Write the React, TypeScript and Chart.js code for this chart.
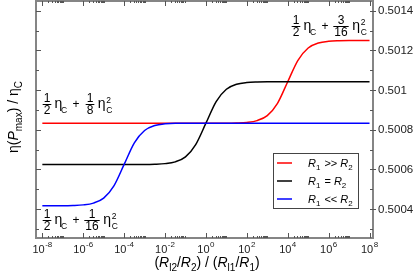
import React, { useEffect, useRef } from "react";
import { Chart, registerables } from "chart.js";

Chart.register(...registerables);

// ---------- data ----------
const xValues = [
  1e-8, 3.16e-8, 1e-7, 3.16e-7, 1e-6, 3.16e-6, 1e-5, 3.16e-5, 1e-4, 3.16e-4,
  1e-3, 3.16e-3, 1e-2, 3.16e-2, 1e-1, 3.16e-1, 1, 3.16, 10, 31.6,
  100, 316, 1e3, 3.16e3, 1e4, 3.16e4, 1e5, 3.16e5, 1e6, 3.16e6,
  1e7, 3.16e7, 1e8,
];

const redValues = [
  0.500833, 0.500833, 0.500833, 0.500833, 0.500833, 0.500833, 0.500833, 0.500833, 0.500833, 0.500833,
  0.500833, 0.500833, 0.500833, 0.500833, 0.500833, 0.500833, 0.500833, 0.500833, 0.500833, 0.500834,
  0.500837, 0.500846, 0.500871, 0.500933, 0.501042, 0.50115, 0.501212, 0.501237, 0.501246, 0.501249,
  0.50125, 0.50125, 0.50125,
];

const blackValues = [
  0.500625, 0.500625, 0.500625, 0.500625, 0.500625, 0.500625, 0.500625, 0.500625, 0.500625, 0.500625,
  0.500625, 0.500626, 0.500629, 0.500638, 0.500663, 0.500725, 0.500833, 0.500942, 0.501004, 0.501029,
  0.501038, 0.501041, 0.501042, 0.501042, 0.501042, 0.501042, 0.501042, 0.501042, 0.501042, 0.501042,
  0.501042, 0.501042, 0.501042,
];

const blueValues = [
  0.500417, 0.500417, 0.500417, 0.500418, 0.500421, 0.50043, 0.500455, 0.500517, 0.500625, 0.500734,
  0.500796, 0.500821, 0.50083, 0.500833, 0.500833, 0.500833, 0.500833, 0.500833, 0.500833, 0.500833,
  0.500833, 0.500833, 0.500833, 0.500833, 0.500833, 0.500833, 0.500833, 0.500833, 0.500833, 0.500833,
  0.500833, 0.500833, 0.500833,
];

const seriesSubs = [
  { rel: ">>", color: "#ff0000" },
  { rel: "=", color: "#000000" },
  { rel: "<<", color: "#0000ff" },
];

const yMajorTicks = [0.5004, 0.5006, 0.5008, 0.501, 0.5012, 0.5014];
const yTickLabels = ["0.5004", "0.5006", "0.5008", "0.501", "0.5012", "0.5014"];
const yMinorTicks = [0.5003, 0.5005, 0.5007, 0.5009, 0.5011, 0.5013];
const xMajorExponents = [-8, -6, -4, -2, 0, 2, 4, 6, 8];
const xMinorMultipliers = [2, 3, 4, 5, 6, 7, 8, 9, 10];

const X_MIN = 4.9e-9;
const X_MAX = 1.48e8;
const Y_MIN = 0.500254;
const Y_MAX = 0.501449;

// ---------- drawing helpers ----------
const FONT = '"Liberation Sans", Arial, Helvetica, sans-serif';
const fnt = (size: number, italic = false) => `${italic ? "italic " : ""}${size}px ${FONT}`;

type Seg = { t: string; s: number; i?: boolean; dy?: number; gap?: number };

function richWidth(ctx: CanvasRenderingContext2D, segs: Seg[]) {
  let w = 0;
  for (const sg of segs) {
    ctx.font = fnt(sg.s, sg.i);
    w += ctx.measureText(sg.t).width + (sg.gap || 0);
  }
  return w;
}

function drawRich(ctx: CanvasRenderingContext2D, segs: Seg[], x: number, y: number) {
  let cx = x;
  ctx.textAlign = "left";
  ctx.textBaseline = "alphabetic";
  for (const sg of segs) {
    ctx.font = fnt(sg.s, sg.i);
    ctx.fillText(sg.t, cx, y + (sg.dy || 0));
    cx += ctx.measureText(sg.t).width + (sg.gap || 0);
  }
}

function frac(ctx: CanvasRenderingContext2D, cx: number, yb: number, n: string, d: string) {
  ctx.font = fnt(12);
  ctx.textAlign = "center";
  ctx.textBaseline = "alphabetic";
  const w = Math.max(ctx.measureText(n).width, ctx.measureText(d).width) + 2;
  ctx.fillText(n, cx, yb - 2);
  ctx.fillText(d, cx, yb + 10);
  ctx.beginPath();
  ctx.moveTo(cx - w / 2, yb + 0.5);
  ctx.lineTo(cx + w / 2, yb + 0.5);
  ctx.stroke();
  return w / 2;
}

function drawExpr(ctx: CanvasRenderingContext2D, x0: number, yb: number, n: string, d: string) {
  ctx.fillStyle = "#000";
  ctx.strokeStyle = "#000";
  ctx.lineWidth = 1;
  frac(ctx, x0 + 4, yb, "1", "2");
  ctx.textAlign = "left";
  ctx.font = fnt(14);
  ctx.fillText("η", x0 + 11.5, yb + 3.5);
  ctx.font = fnt(8.5);
  ctx.fillText("C", x0 + 18, yb + 8.5);
  ctx.font = fnt(12);
  ctx.textAlign = "center";
  ctx.fillText("+", x0 + 33, yb + 4);
  const cx2 = x0 + (d.length > 1 ? 49 : 47);
  const hw = frac(ctx, cx2, yb, n, d);
  const ex = cx2 + hw + 3.5;
  ctx.textAlign = "left";
  ctx.font = fnt(14);
  ctx.fillText("η", ex, yb + 3.5);
  ctx.font = fnt(8.5);
  ctx.fillText("2", ex + 8.5, yb - 1);
  ctx.fillText("C", ex + 8.5, yb + 8.5);
}

const decorPlugin = {
  id: "decor",
  afterDraw(chart: any) {
    const { ctx, chartArea: a, scales } = chart;
    const xs = scales.x;
    const ys = scales.y;
    ctx.save();

    // frame
    ctx.strokeStyle = "#858585";
    ctx.lineWidth = 2;
    ctx.strokeRect(a.left, a.top, a.right - a.left, a.bottom - a.top);

    // y ticks
    ctx.strokeStyle = "#555";
    ctx.lineWidth = 1;
    ctx.beginPath();
    for (const v of yMajorTicks) {
      const y = Math.round(ys.getPixelForValue(v)) + 0.5;
      ctx.moveTo(a.left, y); ctx.lineTo(a.left + 5, y);
      ctx.moveTo(a.right - 3, y); ctx.lineTo(a.right + 3, y);
    }
    for (const v of yMinorTicks) {
      const y = Math.round(ys.getPixelForValue(v)) + 0.5;
      ctx.moveTo(a.left, y); ctx.lineTo(a.left + 3, y);
      ctx.moveTo(a.right - 3, y); ctx.lineTo(a.right, y);
    }
    // x ticks
    for (const e of xMajorExponents) {
      const x = Math.round(xs.getPixelForValue(Math.pow(10, e))) + 0.5;
      ctx.moveTo(x, a.bottom); ctx.lineTo(x, a.bottom - 5);
      ctx.moveTo(x, a.top); ctx.lineTo(x, a.top + 5);
      for (const k of xMinorMultipliers) {
        const v = k * Math.pow(10, e);
        if (v > X_MAX) continue;
        const xm = Math.round(xs.getPixelForValue(v)) + 0.5;
        ctx.moveTo(xm, a.bottom); ctx.lineTo(xm, a.bottom - 2);
        ctx.moveTo(xm, a.top); ctx.lineTo(xm, a.top + 2);
      }
    }
    ctx.stroke();

    // y tick labels
    ctx.fillStyle = "#222";
    ctx.font = fnt(11.5);
    ctx.textAlign = "left";
    ctx.textBaseline = "middle";
    yMajorTicks.forEach((v: number, i: number) => {
      ctx.fillText(yTickLabels[i], a.right + 5, ys.getPixelForValue(v) + 0.5);
    });

    // x tick labels
    for (const e of xMajorExponents) {
      const x = xs.getPixelForValue(Math.pow(10, e));
      const segs: Seg[] = [
        { t: "10", s: 11, gap: 0.5 },
        { t: e < 0 ? "-" + Math.abs(e) : String(e), s: 8, dy: -6 },
      ];
      const w = richWidth(ctx, segs);
      drawRich(ctx, segs, x - w / 2, 253);
    }

    // x title
    const xt: Seg[] = [
      { t: "(", s: 14 },
      { t: "R", s: 14, i: true },
      { t: "l2", s: 10, dy: 4 },
      { t: "/", s: 14 },
      { t: "R", s: 14, i: true },
      { t: "2", s: 10, dy: 4 },
      { t: ")", s: 14 },
      { t: " / ", s: 14 },
      { t: "(", s: 14 },
      { t: "R", s: 14, i: true },
      { t: "l1", s: 10, dy: 4 },
      { t: "/", s: 14 },
      { t: "R", s: 14, i: true },
      { t: "1", s: 10, dy: 4 },
      { t: ")", s: 14 },
    ];
    ctx.fillStyle = "#000";
    const xtw = richWidth(ctx, xt);
    drawRich(ctx, xt, 207 - xtw / 2, 267);

    // y title
    const yt: Seg[] = [
      { t: "η(", s: 14 },
      { t: "P", s: 14, i: true },
      { t: "max", s: 10, dy: 4 },
      { t: ") / η", s: 14 },
      { t: "C", s: 10, dy: 4 },
    ];
    const ytw = richWidth(ctx, yt);
    ctx.save();
    ctx.translate(18, 117);
    ctx.rotate(-Math.PI / 2);
    drawRich(ctx, yt, -ytw / 2, 0);
    ctx.restore();

    // annotations
    drawExpr(ctx, 43, 104, "1", "8");
    drawExpr(ctx, 292, 26, "3", "16");
    drawExpr(ctx, 43, 220, "1", "16");

    // legend
    ctx.fillStyle = "#fff";
    ctx.fillRect(273, 153, 85, 55);
    ctx.strokeStyle = "#444";
    ctx.lineWidth = 1;
    ctx.strokeRect(273.5, 153.5, 85, 55);
    seriesSubs.forEach((s, i) => {
      const y = 163 + i * 18;
      ctx.strokeStyle = s.color;
      ctx.lineWidth = 1.5;
      ctx.beginPath();
      ctx.moveTo(277, y);
      ctx.lineTo(292, y);
      ctx.stroke();
      ctx.fillStyle = "#000";
      drawRich(ctx, [
        { t: "R", s: 11, i: true },
        { t: "1", s: 8, dy: 3, gap: 1 },
        { t: " " + s.rel + " ", s: 11 },
        { t: "R", s: 11, i: true },
        { t: "2", s: 8, dy: 3 },
      ], 308, y + 4);
    });

    ctx.restore();
  },
};

export default function App() {
  const ref = useRef<HTMLCanvasElement>(null);
  useEffect(() => {
    document.body.style.margin = "0";
    const canvas = ref.current;
    if (!canvas) return;
    const mk = (vals: number[]) => xValues.map((x, i) => ({ x, y: vals[i] }));
    const chart = new Chart(canvas, {
      type: "line",
      data: {
        datasets: [
          { label: "R1 >> R2", data: mk(redValues), borderColor: "#ff0000", order: 2 },
          { label: "R1 = R2", data: mk(blackValues), borderColor: "#000000", order: 1 },
          { label: "R1 << R2", data: mk(blueValues), borderColor: "#0000ff", order: 0 },
        ],
      },
      options: {
        responsive: false,
        animation: false,
        layout: { padding: { left: 36, right: 42, top: 1, bottom: 38 } },
        plugins: { legend: { display: false }, tooltip: { enabled: false } },
        scales: {
          x: { type: "logarithmic", display: false, min: X_MIN, max: X_MAX },
          y: { type: "linear", display: false, min: Y_MIN, max: Y_MAX },
        },
        elements: {
          point: { radius: 0 },
          line: { borderWidth: 1.5, cubicInterpolationMode: "monotone" },
        },
      } as any,
      plugins: [decorPlugin],
    });
    return () => chart.destroy();
  }, []);
  return (
    <div style={{ position: "fixed", left: 0, top: 0, width: 415, height: 276, background: "#fff" }}>
      <canvas ref={ref} width={415} height={276} style={{ display: "block", width: 415, height: 276 }} />
    </div>
  );
}
